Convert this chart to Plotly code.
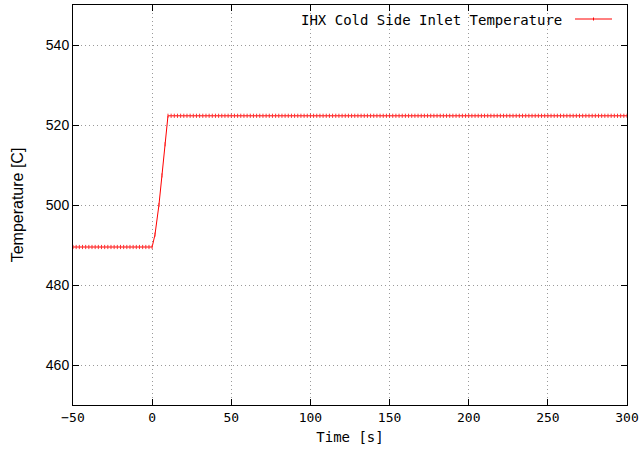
import plotly.graph_objects as go

# Data
pre_time = [-50, -48, -46, -44, -42, -40, -38, -36, -34, -32, -30, -28, -26, -24,
            -22, -20, -18, -16, -14, -12, -10, -8, -6, -4, -2, 0]
pre_temp = [489.5] * len(pre_time)

ramp_time = [1.8, 4.3, 6.2, 8.2]
ramp_temp = [492.6, 500.0, 507.4, 515.2]

post_time = list(range(10, 302, 2))
post_temp = [522.3] * len(post_time)

time = pre_time + ramp_time + post_time
temp = pre_temp + ramp_temp + post_temp

series_name = "IHX Cold Side Inlet Temperature"
x_ticks = [-50, 0, 50, 100, 150, 200, 250, 300]
y_ticks = [460, 480, 500, 520, 540]

mono = "DejaVu Sans Mono"
sans = "Liberation Sans"

fig = go.Figure()
fig.add_trace(go.Scatter(
    x=time, y=temp, mode="lines+markers", name=series_name,
    line=dict(color="#ff0000", width=1),
    marker=dict(symbol="line-ns", size=3, line=dict(color="#ff3030", width=1), color="#ff0000"),
    showlegend=False,
))

grid = dict(showgrid=True, gridcolor="#9a9a9a", griddash="1px,3px", gridwidth=1)

fig.update_layout(
    width=644, height=452,
    margin=dict(l=73, r=17, t=5, b=47),
    paper_bgcolor="white", plot_bgcolor="white",
    xaxis=dict(
        range=[-50, 300], tickvals=x_ticks, ticks="inside", ticklen=6,
        tickcolor="black", showline=True, linecolor="black", linewidth=1, mirror="ticks",
        zeroline=False, **grid,
        tickfont=dict(family=mono, size=13, color="black"),
        title=dict(text="Time [s]", font=dict(family=mono, size=14, color="black"), standoff=8),
    ),
    yaxis=dict(
        range=[450, 550], tickvals=y_ticks, ticks="inside", ticklen=6,
        tickcolor="black", showline=True, linecolor="black", linewidth=1, mirror="ticks",
        zeroline=False, **grid,
        tickfont=dict(family=sans, size=14, color="black"),
        title=dict(text="Temperature [C]", font=dict(family=sans, size=16, color="black"), standoff=18),
    ),
)

# Legend (text then sample line, as in gnuplot)
fig.add_annotation(
    xref="paper", yref="paper", x=(564 - 73) / 554, y=1 - (20 - 5) / 400,
    xanchor="right", yanchor="middle", text=series_name, showarrow=False,
    font=dict(family=mono, size=14, color="black"),
)
fig.add_shape(type="line", xref="paper", yref="paper",
              x0=(575 - 73) / 554, x1=(612 - 73) / 554,
              y0=1 - (19 - 5) / 400, y1=1 - (19 - 5) / 400,
              line=dict(color="#ff0000", width=1))
fig.add_shape(type="line", xref="paper", yref="paper",
              x0=(593.5 - 73) / 554, x1=(593.5 - 73) / 554,
              y0=1 - (17.5 - 5) / 400, y1=1 - (20.5 - 5) / 400,
              line=dict(color="#ff0000", width=1))

fig.write_html("out.html")
